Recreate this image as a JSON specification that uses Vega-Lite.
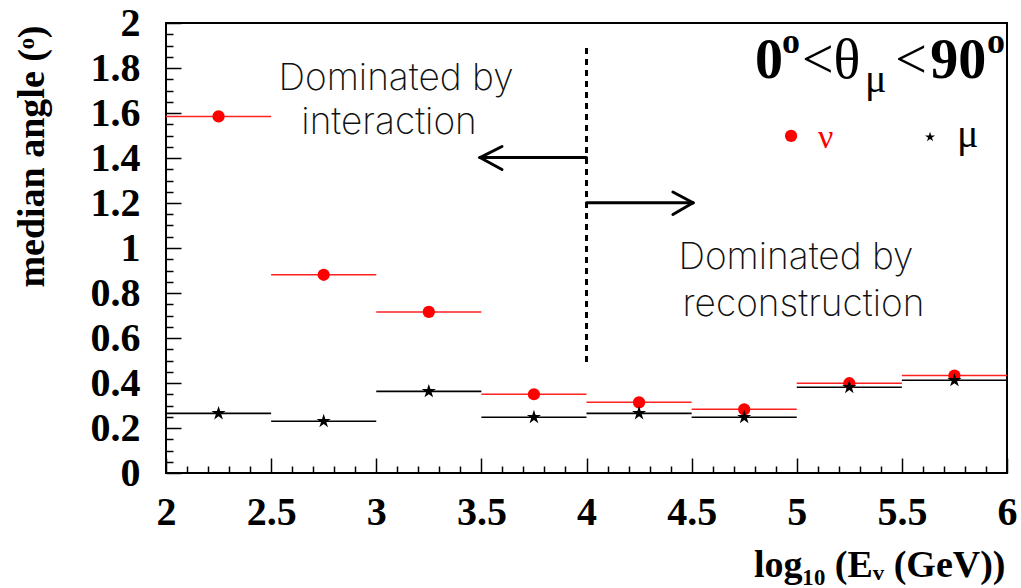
{
  "$schema": "https://vega.github.io/schema/vega-lite/v6.json",
  "width": 841,
  "height": 450,
  "autosize": "none",
  "padding": {"left": 166, "top": 23, "right": 14, "bottom": 115},
  "background": "white",
  "config": {
    "view": {"stroke": "black", "strokeWidth": 2},
    "axis": {"grid": false, "domain": false, "labelFont": "Liberation Serif", "labelFontWeight": "bold", "labelFontSize": 40, "labelColor": "black", "titleFont": "Liberation Serif", "titleFontWeight": "bold", "titleFontSize": 38, "titleColor": "black", "tickColor": "black"}
  },
  "datasets": {
    "nu": [
      {"lo": 2.0, "hi": 2.5, "mid": 2.25, "v": 1.585},
      {"lo": 2.5, "hi": 3.0, "mid": 2.75, "v": 0.881},
      {"lo": 3.0, "hi": 3.5, "mid": 3.25, "v": 0.716},
      {"lo": 3.5, "hi": 4.0, "mid": 3.75, "v": 0.350},
      {"lo": 4.0, "hi": 4.5, "mid": 4.25, "v": 0.314},
      {"lo": 4.5, "hi": 5.0, "mid": 4.75, "v": 0.283},
      {"lo": 5.0, "hi": 5.5, "mid": 5.25, "v": 0.399},
      {"lo": 5.5, "hi": 6.0, "mid": 5.75, "v": 0.433}
    ],
    "mu": [
      {"lo": 2.0, "hi": 2.5, "mid": 2.25, "v": 0.265},
      {"lo": 2.5, "hi": 3.0, "mid": 2.75, "v": 0.230},
      {"lo": 3.0, "hi": 3.5, "mid": 3.25, "v": 0.363},
      {"lo": 3.5, "hi": 4.0, "mid": 3.75, "v": 0.248},
      {"lo": 4.0, "hi": 4.5, "mid": 4.25, "v": 0.265},
      {"lo": 4.5, "hi": 5.0, "mid": 4.75, "v": 0.248},
      {"lo": 5.0, "hi": 5.5, "mid": 5.25, "v": 0.381},
      {"lo": 5.5, "hi": 6.0, "mid": 5.75, "v": 0.412}
    ],
    "arrows": [
      {"x": 4.0, "x2": 3.493, "y": 1.402, "y2": 1.402},
      {"x": 3.493, "x2": 3.598, "y": 1.402, "y2": 1.451},
      {"x": 3.493, "x2": 3.598, "y": 1.402, "y2": 1.349},
      {"x": 4.0, "x2": 4.507, "y": 1.201, "y2": 1.201},
      {"x": 4.507, "x2": 4.411, "y": 1.201, "y2": 1.249},
      {"x": 4.507, "x2": 4.411, "y": 1.201, "y2": 1.149}
    ],
    "notes": [
      {"x": 3.094, "y": 1.702, "t": "Dominated by"},
      {"x": 3.061, "y": 1.507, "t": "interaction"},
      {"x": 4.996, "y": 0.907, "t": "Dominated by"},
      {"x": 5.032, "y": 0.698, "t": "reconstruction"}
    ]
  },
  "resolve": {"axis": {"x": "independent", "y": "independent"}},
  "layer": [
    {
      "data": {"name": "nu"},
      "mark": {"type": "rule", "color": "#ff2020", "strokeWidth": 1.5},
      "encoding": {
        "x": {"field": "lo", "type": "quantitative", "scale": {"domain": [2, 6], "nice": false, "zero": false},
          "axis": {"orient": "bottom", "ticks": false, "labelPadding": 19, "format": "~g", "values": [2, 2.5, 3, 3.5, 4, 4.5, 5, 5.5, 6], "labelFlush": false, "labelOverlap": false,
            "title": "log₁₀ (Eᵥ (GeV))", "titleAnchor": "end", "titleAlign": "right", "titleX": 839, "titleY": 103, "titleBaseline": "alphabetic"}},
        "x2": {"field": "hi"},
        "y": {"field": "v", "type": "quantitative", "scale": {"domain": [0, 2], "nice": false, "zero": false},
          "axis": {"orient": "left", "ticks": false, "labelPadding": 26, "format": "~g", "values": [0, 0.2, 0.4, 0.6, 0.8, 1, 1.2, 1.4, 1.6, 1.8, 2], "labelFlush": false, "labelOverlap": false,
            "title": "median angle (ᵒ)", "titleAngle": -90, "titleAlign": "right", "titleAnchor": "end", "titleX": -123, "titleY": 2, "titleBaseline": "alphabetic"}}
      }
    },
    {
      "data": {"name": "mu"},
      "mark": {"type": "rule", "color": "black", "strokeWidth": 1.6},
      "encoding": {
        "x": {"field": "lo", "type": "quantitative", "scale": {"domain": [2, 6], "nice": false, "zero": false},
          "axis": {"orient": "bottom", "labels": false, "tickSize": -15, "tickWidth": 1.5, "values": [2, 2.5, 3, 3.5, 4, 4.5, 5, 5.5, 6], "title": null}},
        "x2": {"field": "hi"},
        "y": {"field": "v", "type": "quantitative", "scale": {"domain": [0, 2], "nice": false, "zero": false},
          "axis": {"orient": "left", "labels": false, "tickSize": -15, "tickWidth": 1.5, "values": [0, 0.2, 0.4, 0.6, 0.8, 1, 1.2, 1.4, 1.6, 1.8, 2], "title": null}}
      }
    },
    {
      "data": {"name": "nu"},
      "mark": {"type": "point", "shape": "circle", "filled": true, "color": "#ff0000", "size": 150, "opacity": 1},
      "encoding": {
        "x": {"field": "mid", "type": "quantitative", "scale": {"domain": [2, 6], "nice": false, "zero": false},
          "axis": {"orient": "bottom", "labels": false, "tickSize": -7, "tickWidth": 1.5, "title": null,
            "values": [2.1, 2.2, 2.3, 2.4, 2.6, 2.7, 2.8, 2.9, 3.1, 3.2, 3.3, 3.4, 3.6, 3.7, 3.8, 3.9, 4.1, 4.2, 4.3, 4.4, 4.6, 4.7, 4.8, 4.9, 5.1, 5.2, 5.3, 5.4, 5.6, 5.7, 5.8, 5.9]}},
        "y": {"field": "v", "type": "quantitative", "scale": {"domain": [0, 2], "nice": false, "zero": false},
          "axis": {"orient": "left", "labels": false, "tickSize": -7, "tickWidth": 1.5, "title": null,
            "values": [0.05, 0.1, 0.15, 0.25, 0.3, 0.35, 0.45, 0.5, 0.55, 0.65, 0.7, 0.75, 0.85, 0.9, 0.95, 1.05, 1.1, 1.15, 1.25, 1.3, 1.35, 1.45, 1.5, 1.55, 1.65, 1.7, 1.75, 1.85, 1.9, 1.95]}}
      }
    },
    {
      "data": {"name": "mu"},
      "mark": {"type": "point", "shape": "M0,-1L0.2245,-0.309L0.951,-0.309L0.363,0.118L0.588,0.809L0,0.382L-0.588,0.809L-0.363,0.118L-0.951,-0.309L-0.2245,-0.309Z", "filled": true, "color": "black", "size": 220, "opacity": 1},
      "encoding": {
        "x": {"field": "mid", "type": "quantitative", "scale": {"domain": [2, 6]}, "axis": null},
        "y": {"field": "v", "type": "quantitative", "scale": {"domain": [0, 2]}, "axis": null}
      }
    },
    {
      "data": {"values": [{"x": 4.0, "y": 0.493, "y2": 1.893}]},
      "mark": {"type": "rule", "color": "black", "strokeWidth": 3, "strokeDash": [6, 5]},
      "encoding": {
        "x": {"field": "x", "type": "quantitative", "scale": {"domain": [2, 6]}, "axis": null},
        "y": {"field": "y", "type": "quantitative", "scale": {"domain": [0, 2]}, "axis": null},
        "y2": {"field": "y2"}
      }
    },
    {
      "data": {"name": "arrows"},
      "mark": {"type": "rule", "color": "black", "strokeWidth": 3, "strokeCap": "round"},
      "encoding": {
        "x": {"field": "x", "type": "quantitative", "scale": {"domain": [2, 6]}, "axis": null},
        "x2": {"field": "x2"},
        "y": {"field": "y", "type": "quantitative", "scale": {"domain": [0, 2]}, "axis": null},
        "y2": {"field": "y2"}
      }
    },
    {
      "data": {"name": "notes"},
      "mark": {"type": "text", "font": "Inter", "fontWeight": 200, "fontSize": 37, "color": "#111111", "align": "center", "baseline": "alphabetic"},
      "encoding": {
        "x": {"field": "x", "type": "quantitative", "scale": {"domain": [2, 6]}, "axis": null},
        "y": {"field": "y", "type": "quantitative", "scale": {"domain": [0, 2]}, "axis": null},
        "text": {"field": "t"}
      }
    },
    {
      "data": {"values": [{"x": 4.801, "y": 1.756, "t": "0"}, {"x": 5.635, "y": 1.756, "t": "90"}]},
      "mark": {"type": "text", "font": "Liberation Serif", "fontWeight": "bold", "fontSize": 56, "color": "black", "align": "left", "baseline": "alphabetic"},
      "encoding": {
        "x": {"field": "x", "type": "quantitative", "scale": {"domain": [2, 6]}, "axis": null},
        "y": {"field": "y", "type": "quantitative", "scale": {"domain": [0, 2]}, "axis": null},
        "text": {"field": "t"}
      }
    },
    {
      "data": {"values": [{"x": 4.930, "y": 1.867, "t": "o"}, {"x": 5.905, "y": 1.867, "t": "o"}]},
      "mark": {"type": "text", "font": "Liberation Serif", "fontWeight": "bold", "fontSize": 36, "color": "black", "align": "left", "baseline": "alphabetic"},
      "encoding": {
        "x": {"field": "x", "type": "quantitative", "scale": {"domain": [2, 6]}, "axis": null},
        "y": {"field": "y", "type": "quantitative", "scale": {"domain": [0, 2]}, "axis": null},
        "text": {"field": "t"}
      }
    },
    {
      "data": {"values": [{"x": 5.025, "y": 1.756, "t": "<θ"}, {"x": 5.468, "y": 1.756, "t": "<"}]},
      "mark": {"type": "text", "font": "Liberation Serif", "fontSize": 56, "color": "black", "align": "left", "baseline": "alphabetic"},
      "encoding": {
        "x": {"field": "x", "type": "quantitative", "scale": {"domain": [2, 6]}, "axis": null},
        "y": {"field": "y", "type": "quantitative", "scale": {"domain": [0, 2]}, "axis": null},
        "text": {"field": "t"}
      }
    },
    {
      "data": {"values": [{"x": 5.325, "y": 1.693, "t": "μ"}]},
      "mark": {"type": "text", "font": "Liberation Serif", "fontSize": 40, "color": "black", "align": "left", "baseline": "alphabetic"},
      "encoding": {
        "x": {"field": "x", "type": "quantitative", "scale": {"domain": [2, 6]}, "axis": null},
        "y": {"field": "y", "type": "quantitative", "scale": {"domain": [0, 2]}, "axis": null},
        "text": {"field": "t"}
      }
    },
    {
      "data": {"values": [{"x": 4.973, "y": 1.498}]},
      "mark": {"type": "point", "shape": "circle", "filled": true, "color": "#ff0000", "size": 150, "opacity": 1},
      "encoding": {
        "x": {"field": "x", "type": "quantitative", "scale": {"domain": [2, 6]}, "axis": null},
        "y": {"field": "y", "type": "quantitative", "scale": {"domain": [0, 2]}, "axis": null}
      }
    },
    {
      "data": {"values": [{"x": 5.634, "y": 1.493}]},
      "mark": {"type": "point", "shape": "M0,-1L0.2245,-0.309L0.951,-0.309L0.363,0.118L0.588,0.809L0,0.382L-0.588,0.809L-0.363,0.118L-0.951,-0.309L-0.2245,-0.309Z", "filled": true, "color": "black", "size": 110, "opacity": 1},
      "encoding": {
        "x": {"field": "x", "type": "quantitative", "scale": {"domain": [2, 6]}, "axis": null},
        "y": {"field": "y", "type": "quantitative", "scale": {"domain": [0, 2]}, "axis": null}
      }
    },
    {
      "data": {"values": [{"x": 5.101, "y": 1.444, "t": "ν"}]},
      "mark": {"type": "text", "font": "Liberation Serif", "fontSize": 34, "color": "#ff0000", "align": "left", "baseline": "alphabetic"},
      "encoding": {
        "x": {"field": "x", "type": "quantitative", "scale": {"domain": [2, 6]}, "axis": null},
        "y": {"field": "y", "type": "quantitative", "scale": {"domain": [0, 2]}, "axis": null},
        "text": {"field": "t"}
      }
    },
    {
      "data": {"values": [{"x": 5.762, "y": 1.449, "t": "μ"}]},
      "mark": {"type": "text", "font": "Liberation Serif", "fontSize": 40, "color": "black", "align": "left", "baseline": "alphabetic"},
      "encoding": {
        "x": {"field": "x", "type": "quantitative", "scale": {"domain": [2, 6]}, "axis": null},
        "y": {"field": "y", "type": "quantitative", "scale": {"domain": [0, 2]}, "axis": null},
        "text": {"field": "t"}
      }
    }
  ]
}
